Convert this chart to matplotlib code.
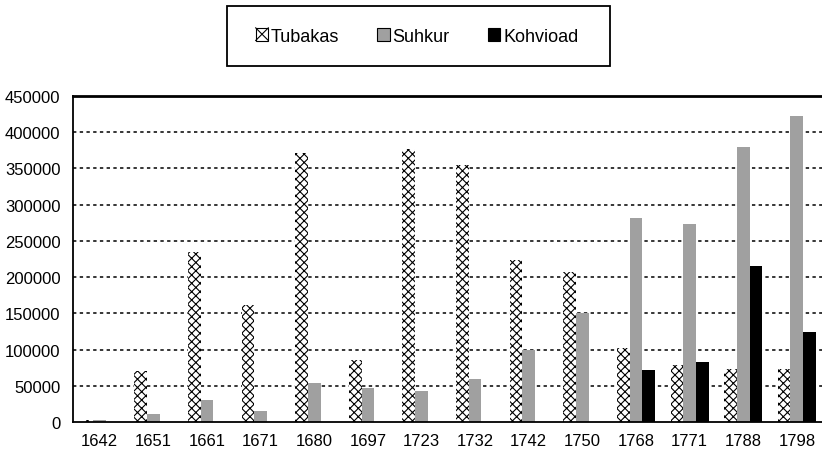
import numpy as np
import matplotlib
matplotlib.use("Agg")
import matplotlib.pyplot as plt
from matplotlib.patches import Rectangle, Patch
from matplotlib.lines import Line2D
from matplotlib.legend_handler import HandlerPatch

plt.rcParams["font.family"] = ["Liberation Sans", "DejaVu Sans"]
plt.rcParams["hatch.linewidth"] = 0.8

# ------------------------------------------------------------
# andmed
# ------------------------------------------------------------
years = ["1642", "1651", "1661", "1671", "1680", "1697", "1723", "1732",
         "1742", "1750", "1768", "1771", "1788", "1798"]
tubakas = [2500, 71000, 234000, 162000, 372000, 86000, 377000, 355000,
           223000, 207000, 102000, 79000, 73000, 73000]
suhkur = [3000, 11000, 30000, 15000, 54000, 47000, 43000, 59000,
          100000, 151000, 281000, 273000, 379000, 422000]
kohvioad = [0, 0, 0, 0, 0, 0, 0, 0,
            0, 0, 72000, 83000, 215000, 124000]
yticks = [0, 50000, 100000, 150000, 200000, 250000, 300000, 350000, 400000, 450000]


# legendi ruut ristiga (⊠)
class HandlerCrossBox(HandlerPatch):
    def create_artists(self, legend, orig_handle, xdescent, ydescent,
                       width, height, fontsize, trans):
        s = min(width, height)
        x0 = -xdescent + (width - s) / 2
        y0 = -ydescent + (height - s) / 2
        box = Rectangle((x0, y0), s, s, facecolor="white", edgecolor="black",
                        linewidth=0.8, transform=trans)
        d1 = Line2D([x0, x0 + s], [y0, y0 + s], color="black", linewidth=0.8, transform=trans)
        d2 = Line2D([x0, x0 + s], [y0 + s, y0], color="black", linewidth=0.8, transform=trans)
        return [box, d1, d2]


# ------------------------------------------------------------
# joonis
# ------------------------------------------------------------
fig = plt.figure(figsize=(8.22, 4.56), dpi=100)
ax = fig.add_axes([73 / 822, 1 - 423 / 456, 1 - 73 / 822 + 0.002, (423 - 97) / 456])

x = np.arange(len(years))
w = 0.237
ax.bar(x - w, tubakas, w, color="white", edgecolor="black", linewidth=0,
       hatch="xxxx")
ax.bar(x, suhkur, w, color="#a0a0a0", linewidth=0)
ax.bar(x + w, kohvioad, w, color="black", linewidth=0)

ax.set_xlim(-0.5, len(years) - 0.5)
ax.set_ylim(0, 450000)
ax.set_yticks(yticks)
ax.set_yticklabels([str(v) for v in yticks])
ax.set_xticks(x)
ax.set_xticklabels(years)
ax.tick_params(axis="both", length=0, labelsize=12)
ax.tick_params(axis="y", pad=9)
ax.tick_params(axis="x", pad=8)

for v in yticks[1:-1]:
    ax.axhline(v, color="black", linewidth=1.1, linestyle=(0, (2.2, 2.2)), zorder=0.5)

ax.spines["right"].set_visible(False)
ax.spines["top"].set_linewidth(2.0)
ax.spines["left"].set_linewidth(1.3)
ax.spines["bottom"].set_linewidth(1.3)

# legend koos eraldi raamiga
h_tub = Patch(facecolor="white", edgecolor="black", label="Tubakas")
handles = [
    h_tub,
    Patch(facecolor="#a0a0a0", edgecolor="black", linewidth=0.8, label="Suhkur"),
    Patch(facecolor="black", edgecolor="black", linewidth=0.8, label="Kohvioad"),
]
fig.patches.append(Rectangle((227 / 822, 1 - 67 / 456), 383 / 822, 60 / 456,
                             transform=fig.transFigure, fill=False,
                             edgecolor="black", linewidth=1.3))
fig.legend(handles=handles, loc="center",
           bbox_to_anchor=(417 / 822, 1 - 37 / 456), ncol=3, frameon=False,
           fontsize=13, handlelength=0.7, handleheight=0.7,
           handletextpad=0.15, columnspacing=2.1,
           handler_map={h_tub: HandlerCrossBox()})

plt.savefig("out.png", dpi=100)
